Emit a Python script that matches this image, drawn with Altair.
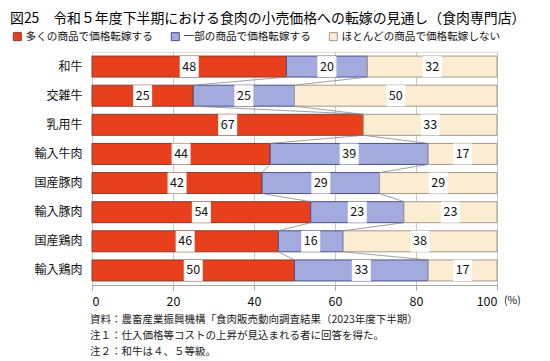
import altair as alt
import pandas as pd

categories = ["和牛", "交雑牛", "乳用牛", "輸入牛肉", "国産豚肉", "輸入豚肉", "国産鶏肉", "輸入鶏肉"]
many = [48, 25, 67, 44, 42, 54, 46, 50]
some = [20, 25, 0, 39, 29, 23, 16, 33]
none_ = [32, 50, 33, 17, 29, 23, 38, 17]
series = ["多くの商品で価格転嫁する", "一部の商品で価格転嫁する", "ほとんどの商品で価格転嫁しない"]
colors = ["#e8401c", "#a3aade", "#fcecd2"]
strokes = ["#8a3a2a", "#4a5088", "#a09a90"]
x_ticks = [0, 20, 40, 60, 80, 100]
title_text = "図25　令和５年度下半期における食肉の小売価格への転嫁の見通し（食肉専門店）"
notes = [
    "資料：農畜産業振興機構「食肉販売動向調査結果（2023年度下半期）",
    "注１：仕入価格等コストの上昇が見込まれる者に回答を得た。",
    "注２：和牛は４、５等級。",
]
FONT = "Noto Sans CJK JP"

rows = []
for i, c in enumerate(categories):
    start = 0
    for k, (s, v) in enumerate(zip(series, [many[i], some[i], none_[i]])):
        rows.append(dict(cat=c, series=s, k=k, start=start, end=start + v,
                         mid=start + v / 2, value=v))
        start += v
df = pd.DataFrame(rows)
df = df[df["value"] > 0]

conn = []
for i in range(len(categories) - 1):
    ends_a = [many[i], many[i] + some[i]]
    ends_b = [many[i + 1], many[i + 1] + some[i + 1]]
    for a, b in zip(ends_a, ends_b):
        conn.append(dict(cat1=categories[i], cat2=categories[i + 1], x1=a, x2=b))
conn = pd.DataFrame(conn)

xscale = alt.Scale(domain=[0, 100], nice=False)
yscale = alt.Scale(domain=categories, paddingInner=0.28, paddingOuter=0.14)

xaxis = alt.Axis(values=x_ticks, title=None, labelFontSize=12.5, tickSize=5,
                 labelPadding=5, gridColor="#c8c8c8", domainColor="#a8a8a8",
                 tickColor="#a8a8a8", labelColor="#111", labelFont=FONT)
yaxis = alt.Axis(title=None, ticks=False, domain=False, labelFontSize=12,
                 labelPadding=10, labelColor="#111", labelFont=FONT)

base = alt.Chart(df)

bars = base.mark_bar(strokeWidth=1).encode(
    x=alt.X("start:Q", scale=xscale, axis=xaxis),
    x2="end:Q",
    y=alt.Y("cat:N", sort=None, scale=yscale, axis=yaxis),
    color=alt.Color("series:N", scale=alt.Scale(domain=series, range=colors),
                    legend=alt.Legend(orient="none", legendX=-80, legendY=-21,
                                      direction="horizontal", title=None,
                                      symbolType="square", symbolSize=64,
                                      symbolStrokeColor="#777", symbolStrokeWidth=1,
                                      labelFontSize=10.6, labelFont=FONT,
                                      labelColor="#111", columnPadding=16,
                                      labelOffset=3, labelLimit=0)),
    stroke=alt.Stroke("series:N", scale=alt.Scale(domain=series, range=strokes),
                      legend=None),
)

lines = alt.Chart(conn).mark_rule(color="#888", strokeWidth=0.8).encode(
    x=alt.X("x1:Q", scale=xscale),
    x2="x2:Q",
    y=alt.Y("cat1:N", sort=None, bandPosition=1),
    y2=alt.Y2("cat2:N", bandPosition=0),
)

boxes = base.mark_tick(color="white", thickness=19, size=21, opacity=1).encode(
    x="mid:Q",
    y=alt.Y("cat:N", sort=None),
)

labels = base.mark_text(fontSize=12.5, color="#111", font=FONT).encode(
    x="mid:Q",
    y=alt.Y("cat:N", sort=None),
    text="value:Q",
)

title = alt.Chart(pd.DataFrame({"t": [title_text]})).mark_text(
    align="left", baseline="middle", fontSize=13.9, font=FONT, color="#000"
).encode(x=alt.value(-82), y=alt.value(-33), text="t:N")

note_mark = alt.Chart(pd.DataFrame({"t": [notes]})).mark_text(
    align="left", baseline="top", fontSize=10.5, font=FONT, color="#222",
    lineHeight=16, text=notes
).encode(x=alt.value(-2), y=alt.value(263))

pct = alt.Chart(pd.DataFrame({"t": ["(%)"]})).mark_text(
    align="left", baseline="middle", fontSize=10.5, font=FONT, color="#111"
).encode(x=alt.value(412), y=alt.value(249), text="t:N")

chart = alt.layer(bars, lines, boxes, labels, title, note_mark, pct).properties(
    width=405, height=233,
    autosize=alt.AutoSizeParams(type="none"),
    padding={"left": 84, "top": 44, "right": 45, "bottom": 76},
).configure_view(stroke="#b8b8b8").configure(background="white")

chart.save("out.html", embed_options={"renderer": "svg", "actions": False})
